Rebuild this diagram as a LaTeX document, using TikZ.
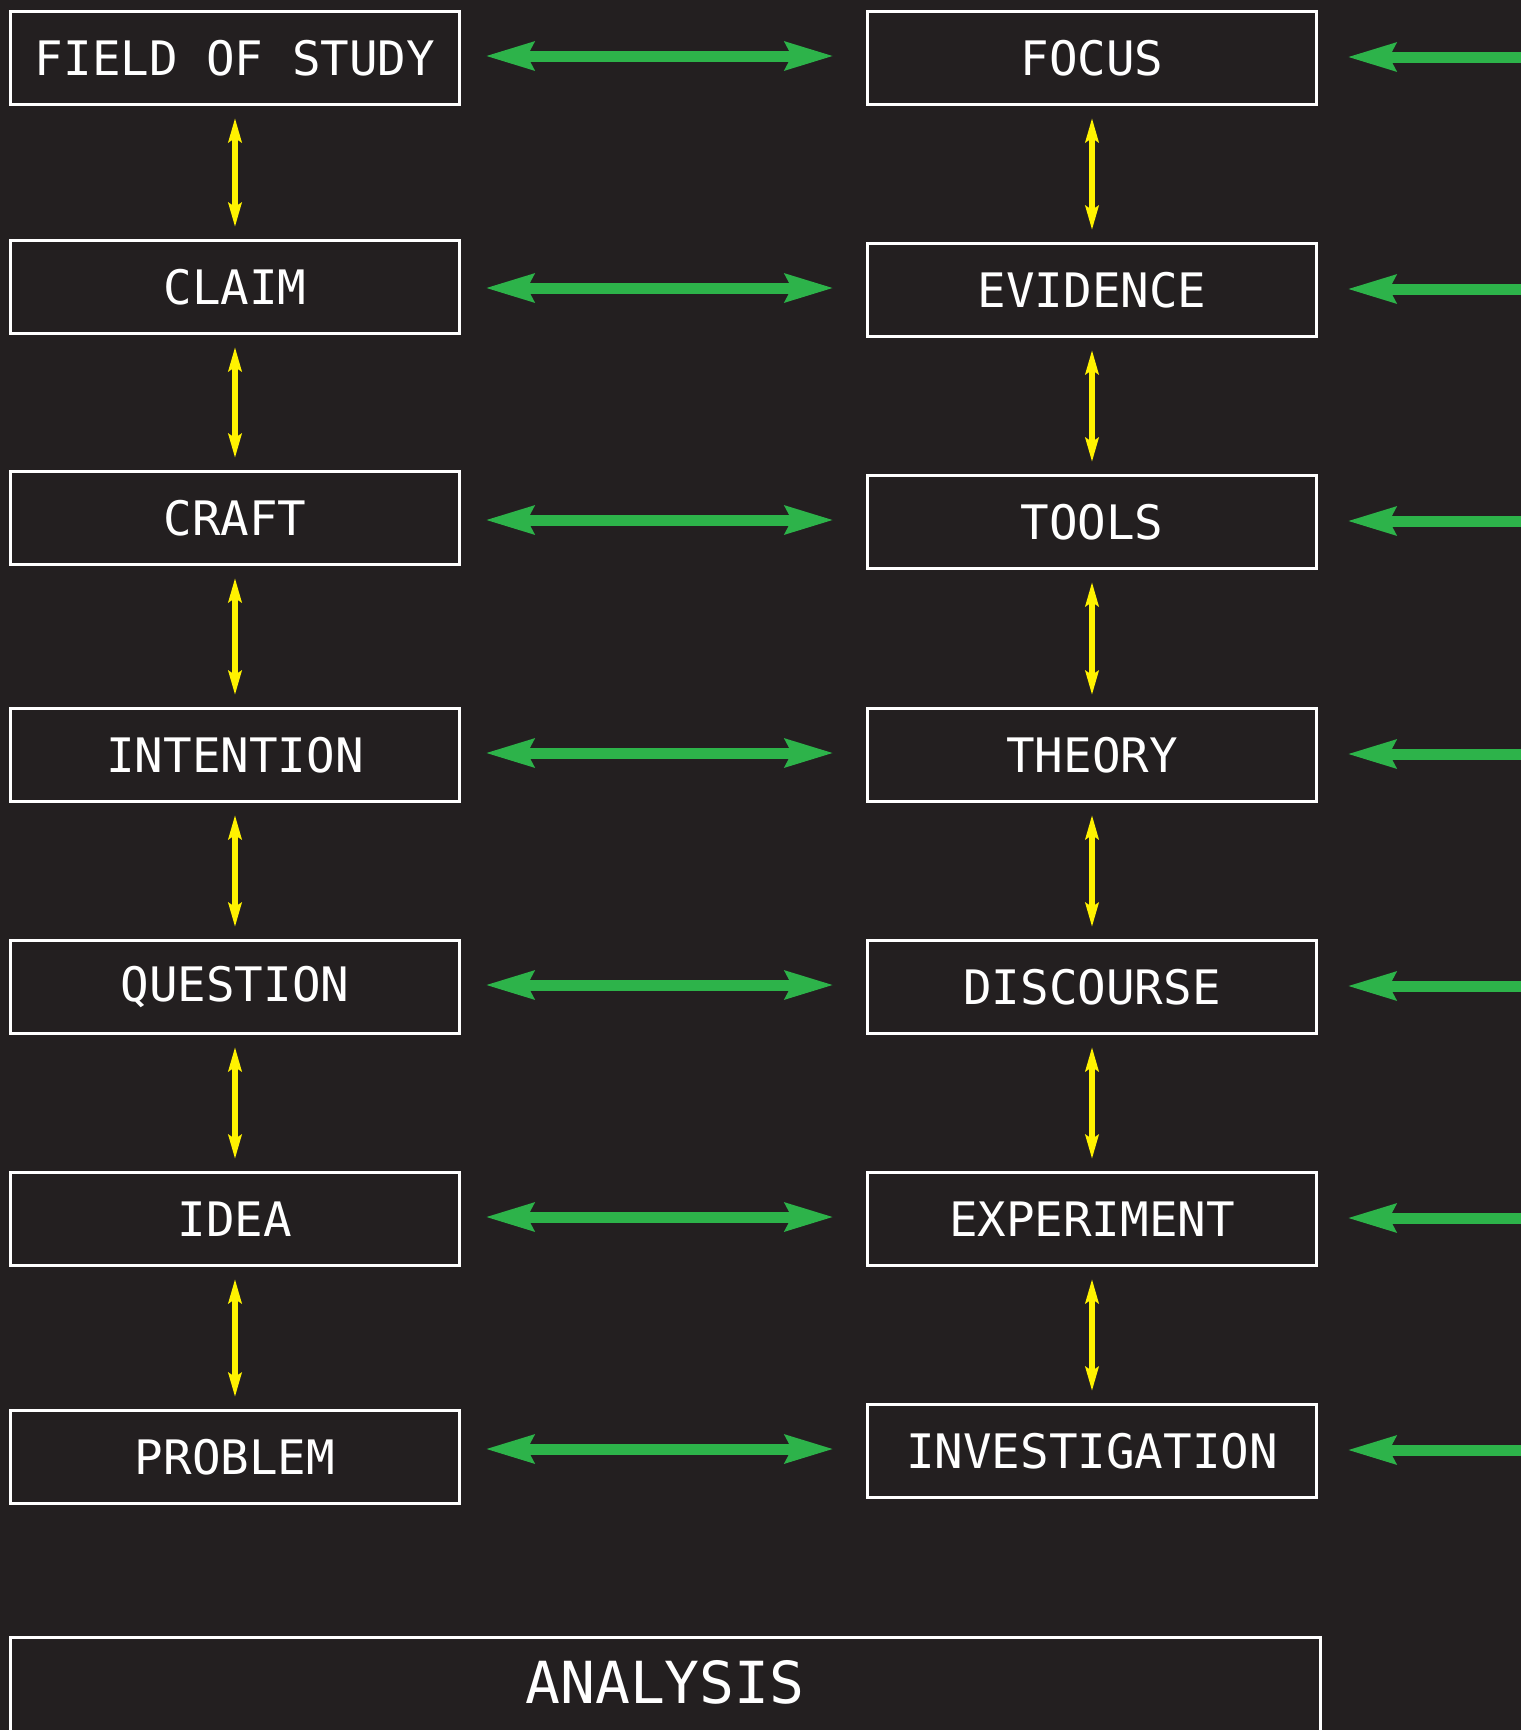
\documentclass[tikz,border=0pt]{standalone}
\usepackage{fontspec}
\newfontfamily\dotfont{DejaVu Sans Mono}
\usetikzlibrary{arrows.meta,calc}
\definecolor{bg}{HTML}{231F20}
\definecolor{grn}{HTML}{2DB34A}
\definecolor{ylw}{HTML}{FFF200}
\begin{document}
\begin{tikzpicture}[x=1pt,y=-1pt,
  box/.style={draw=white, line width=3pt, minimum width=449pt, minimum height=93pt,
    inner sep=0pt, text=white, font=\dotfont\fontsize{47.5}{50}\selectfont},
  gtip/.tip={Stealth[length=48pt,width=27pt,inset=6pt]},
  ytip/.tip={Stealth[length=24pt,width=13pt,inset=4pt]},
  garrow/.style={draw=grn, line width=11pt, gtip-gtip},
  rarrow/.style={draw=grn, line width=11pt, -gtip},
  yarrow/.style={draw=ylw, line width=5.5pt, ytip-ytip, shorten <=12pt, shorten >=12pt}]
\useasboundingbox (0,0) rectangle (1521,1730);
\fill[bg] (0,0) rectangle (1521,1730);
\clip (0,0) rectangle (1521,1730);
% left column
\node[box] (L1) at (235,58) {FIELD OF STUDY};
\node[box] (L2) at (235,287) {CLAIM};
\node[box] (L3) at (235,518) {CRAFT};
\node[box] (L4) at (235,755) {INTENTION};
\node[box] (L5) at (235,987) {QUESTION};
\node[box] (L6) at (235,1219) {IDEA};
\node[box] (L7) at (235,1457) {PROBLEM};
% right column
\node[box] (R1) at (1092,58) {FOCUS};
\node[box] (R2) at (1092,290) {EVIDENCE};
\node[box] (R3) at (1092,522) {TOOLS};
\node[box] (R4) at (1092,755) {THEORY};
\node[box] (R5) at (1092,987) {DISCOURSE};
\node[box] (R6) at (1092,1219) {EXPERIMENT};
\node[box] (R7) at (1092,1451) {INVESTIGATION};
% analysis
\node[box, minimum width=1310pt, minimum height=130pt, anchor=north,
  font=\dotfont\fontsize{58}{60}\selectfont] (AN) at (665,1636) {\raisebox{41pt}{ANALYSIS}};
% green arrows
\foreach \i in {1,...,7}{
  \draw[garrow] ($(L\i.east |- R\i.west)+(24,-2)$) -- ($(R\i.west)+(-32,-2)$);
  \coordinate (E\i) at ($(R\i.east)+(240,-1)$);
  \draw[rarrow] (E\i) -- ($(R\i.east)+(29,-1)$);
}
% yellow arrows
\foreach \i/\j in {1/2,2/3,3/4,4/5,5/6,6/7}{
  \draw[yarrow] (L\i.south) -- (L\j.north);
  \draw[yarrow] (R\i.south) -- (R\j.north);
}
\end{tikzpicture}
\end{document}
